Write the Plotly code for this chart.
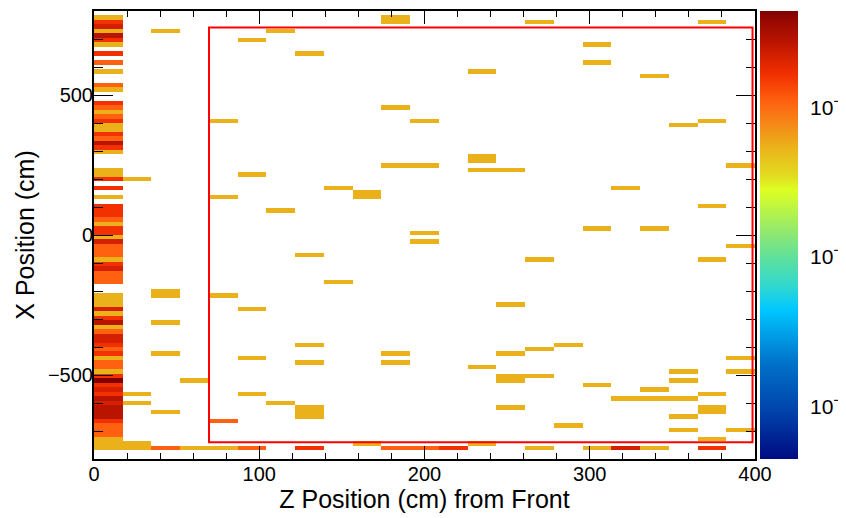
import numpy as np
import plotly.graph_objects as go

# ---------------- data ----------------
n_zbins, z_lo, z_hi = 23, 0.0, 400.0
n_xbins, x_lo, x_hi = 100, -800.0, 800.0
hit_weight = 0.00494

# first z bin (0 - 17.4 cm): x bin centres (cm) and hit counts
col0_x = [776, 760, 744, 728, 712, 696, 680, 648, 616, 584, 536, 520, 472, 456, 440,
          424, 408, 392, 376, 360, 344, 328, 312, 296, 232, 216, 200, 168, 136, 104,
          88, 72, 56, 40, 24, 8,
          -8, -24, -40, -56, -72, -88, -104, -120, -136, -152, -168, -216, -232, -248,
          -264, -280, -296, -312, -328, -344, -360, -376, -392, -408, -424, -440, -456,
          -472, -488, -504, -520, -536, -552, -568, -584, -600, -616, -632, -648, -664,
          -680, -696, -712, -728, -744, -760]
col0_counts = [1, 3, 4, 1, 5, 3, 1, 3, 2, 1, 2, 1, 3, 2, 1,
               2, 3, 1, 1, 3, 2, 5, 3, 1, 1, 1, 3, 3, 1, 3,
               3, 3, 2, 1, 3, 3,
               1, 4, 2, 2, 2, 1, 3, 4, 2, 2, 2, 1, 1, 1,
               4, 1, 3, 5, 1, 2, 4, 4, 3, 2, 3, 1, 2,
               2, 1, 3, 8, 3, 4, 3, 5, 4, 5, 5, 5, 3,
               2, 2, 2, 1, 1, 1]

# remaining hits: z bin centre (cm), x bin centre (cm), count
hit_z = [43.5, 113.0, 95.7, 78.3, 95.7, 26.1, 78.3, 113.0,
         182.6, 182.6, 269.6, 373.9, 130.4, 234.8, 182.6, 200.0, 234.8, 234.8, 234.8,
         252.2, 182.6, 200.0, 147.8, 165.2, 165.2, 200.0, 200.0,
         304.3, 304.3, 339.1, 373.9, 356.5, 391.3, 321.7, 373.9, 304.3, 339.1,
         391.3, 269.6, 373.9, 130.4, 147.8, 252.2,
         43.5, 43.5, 78.3, 95.7, 43.5, 43.5, 95.7, 60.9, 26.1, 95.7, 26.1, 113.0, 43.5, 78.3,
         26.1, 26.1, 43.5, 60.9, 78.3, 95.7, 130.4, 165.2, 182.6, 200.0, 217.4, 234.8,
         269.6, 304.3, 321.7, 339.1, 373.9, 373.9,
         130.4, 130.4, 182.6, 182.6, 234.8, 252.2, 269.6, 287.0, 252.2, 252.2, 269.6,
         130.4, 130.4, 130.4, 252.2,
         391.3, 356.5, 391.3, 356.5, 304.3, 339.1, 321.7, 339.1, 356.5, 373.9, 373.9,
         373.9, 356.5, 287.0, 356.5, 391.3]
hit_x = [728, 728, 696, 408, 216, 200, 136, 88,
         760, 776, 760, 760, 648, 584, 456, 408, 280, 264, 232,
         232, 248, 248, 168, 152, 136, 8, -24,
         680, 616, 568, 408, 392, 248, 168, 104, 24, 24,
         -40, -88, -88, -72, -168, -248,
         -200, -216, -216, -264, -312, -424, -440, -520, -568, -568, -600, -600, -632, -664,
         -744, -760, -760, -760, -760, -760, -760, -744, -760, -760, -760, -744,
         -760, -760, -760, -760, -728, -760,
         -392, -456, -424, -456, -472, -424, -408, -392, -504, -520, -504,
         -616, -632, -648, -616,
         -440, -488, -488, -520, -536, -552, -584, -584, -584, -568, -616,
         -632, -648, -680, -696, -696]
hit_counts = [1, 1, 1, 1, 1, 1, 1, 1,
              1, 1, 1, 1, 1, 1, 1, 1, 1, 1, 1,
              1, 1, 1, 1, 1, 1, 1, 1,
              1, 1, 1, 1, 1, 1, 1, 1, 1, 1,
              1, 1, 1, 1, 1, 1,
              1, 1, 1, 1, 1, 1, 1, 1, 1, 1, 1, 1, 1, 2,
              1, 1, 2, 1, 1, 2, 3, 1, 2, 2, 3, 1,
              1, 1, 4, 1, 1, 3,
              1, 1, 1, 1, 1, 1, 1, 1, 1, 1, 1,
              1, 1, 1, 1,
              1, 1, 1, 1, 1, 1, 1, 1, 1, 1, 1,
              1, 1, 1, 1, 1]

fiducial_z = (69.6, 398.5)
fiducial_x = (-740, 741)

# ---------------- histogram ----------------
z_edges = np.linspace(z_lo, z_hi, n_zbins + 1)
x_edges = np.linspace(x_lo, x_hi, n_xbins + 1)
all_z = np.array([8.7] * len(col0_x) + hit_z)
all_x = np.array(col0_x + hit_x, dtype=float)
all_w = np.array(col0_counts + hit_counts, dtype=float) * hit_weight
H, _, _ = np.histogram2d(all_x, all_z, bins=[x_edges, z_edges], weights=all_w)
Z = np.where(H > 0, np.log10(np.where(H > 0, H, 1)), np.nan)
zmax = np.log10(H.max())
zmin = zmax - 3.0

colorscale = [
    [0.0, "#000a82"], [0.10, "#0040a8"], [0.21, "#0070c8"], [0.28, "#00a0e8"],
    [0.334, "#00c8ff"], [0.385, "#30d8d0"], [0.445, "#5ce0a0"], [0.505, "#90e870"],
    [0.60, "#ddff22"], [0.634, "#e2da20"], [0.70, "#ebb01a"], [0.745, "#f48a18"],
    [0.80, "#ff6010"], [0.858, "#f23000"], [0.90, "#d42000"], [0.933, "#b81400"],
    [0.98, "#960800"], [1.0, "#800000"],
]

majors, minors = [], []
for dec in range(-5, 0):
    for m in range(1, 10):
        v = np.log10(m) + dec
        if zmin <= v <= zmax:
            (majors if m == 1 else minors).append(v)
major_text = ["10<sup>\u2212%d</sup>" % round(-v) for v in majors]

FONT = "Liberation Sans, Arial, Helvetica, sans-serif"
W, H_px = 846, 518
ml, mr, mt, mb = 86, 99, 3, 67
plot_w = W - ml - mr
cb_left_px = 752
cb_thick = 38

fig = go.Figure(go.Heatmap(
    x=z_edges, y=x_edges, z=Z, zmin=zmin, zmax=zmax, colorscale=colorscale,
    hoverongaps=False,
    colorbar=dict(x=(cb_left_px - ml) / plot_w, xanchor="left", y=0.5, yanchor="middle",
                  len=1, lenmode="fraction", thickness=cb_thick, xpad=0, ypad=0,
                  outlinewidth=0, ticks="", showticklabels=False),
))

shapes = [dict(type="rect", xref="x", yref="y", x0=fiducial_z[0], x1=fiducial_z[1],
               y0=fiducial_x[0], y1=fiducial_x[1], line=dict(color="#ff0000", width=2),
               layer="above")]
cb_right = (cb_left_px + cb_thick - ml) / plot_w
for vals, length in ((majors, 20), (minors, 9)):
    for v in vals:
        yp = (v - zmin) / (zmax - zmin)
        shapes.append(dict(type="line", xref="paper", yref="paper",
                           x0=cb_right - length / plot_w, x1=cb_right, y0=yp, y1=yp,
                           line=dict(color="black", width=1)))

annotations = []
for v, t in zip(majors, major_text):
    annotations.append(dict(xref="paper", yref="paper", x=(800 - ml) / plot_w,
                            y=(v - zmin) / (zmax - zmin), xanchor="left", yanchor="middle",
                            text=t, showarrow=False, yshift=-6,
                            font=dict(family=FONT, size=21, color="black")))

axis_common = dict(showline=True, linecolor="black", linewidth=2, mirror="ticks",
                   ticks="inside", tickcolor="black", showgrid=False, zeroline=False,
                   tickfont=dict(family=FONT, size=20, color="black"))
fig.update_layout(
    width=W, height=H_px, margin=dict(l=ml, r=mr, t=mt, b=mb, autoexpand=False),
    paper_bgcolor="white", plot_bgcolor="white", shapes=shapes, annotations=annotations,
    font=dict(family=FONT, color="black"),
    xaxis=dict(range=[z_lo, z_hi], tickmode="linear", tick0=0, dtick=100, ticklen=13,
               ticklabelstandoff=-4,
               minor=dict(dtick=20, ticklen=6, ticks="inside", tickcolor="black"),
               title=dict(text="Z Position (cm) from Front", font=dict(size=25), standoff=3),
               **axis_common),
    yaxis=dict(range=[x_lo, x_hi], tickmode="linear", tick0=0, dtick=500, ticklen=19,
               ticklabelstandoff=-5,
               minor=dict(dtick=100, ticklen=9, ticks="inside", tickcolor="black"),
               title=dict(text="X Position (cm)", font=dict(size=25), standoff=6),
               **axis_common),
)
fig.write_html("out.html")
